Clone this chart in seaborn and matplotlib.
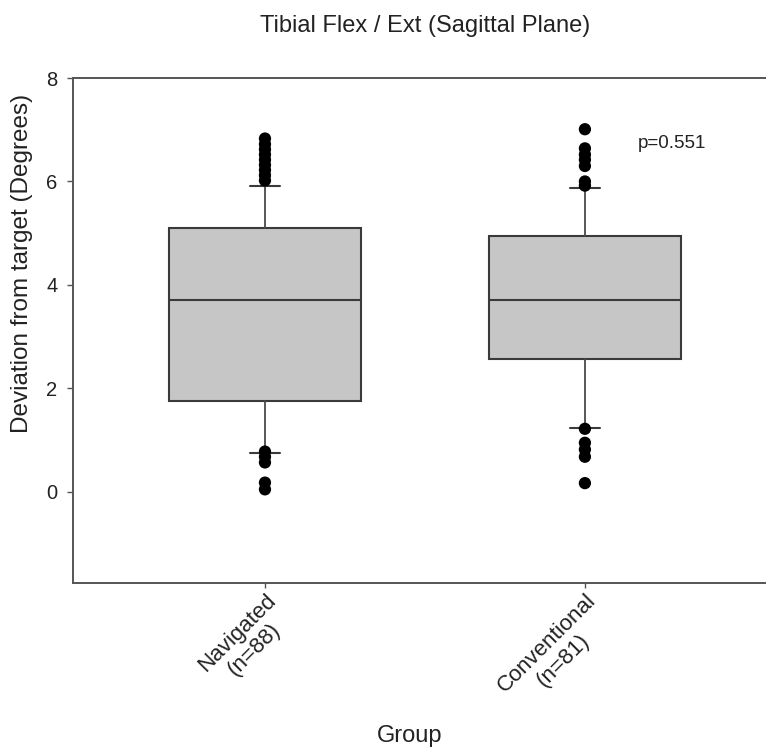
import matplotlib
matplotlib.use("Agg")
import matplotlib.pyplot as plt
import seaborn as sns
import pandas as pd

# Group labels and summary statistics (whiskers at the 10th / 90th percentiles)
groups = ["Navigated\n(n=88)", "Conventional\n(n=81)"]
medians = [3.71, 3.71]
q1 = [1.76, 2.57]
q3 = [5.10, 4.95]
whisk_low = [0.75, 1.24]
whisk_high = [5.91, 5.87]

# Points beyond the whiskers
outliers_navigated = [6.83, 6.72, 6.62, 6.52, 6.42, 6.32, 6.22, 6.12, 6.02,
                      0.78, 0.68, 0.57, 0.18, 0.05]
outliers_conventional = [7.01, 6.64, 6.52, 6.42, 6.30, 6.00, 5.92,
                         1.22, 0.95, 0.82, 0.68, 0.17]

p_label = "p=0.551"
y_ticks = [0, 2, 4, 6, 8]

sns.set_style("white")
plt.rcParams["font.family"] = ["Liberation Sans", "DejaVu Sans"]

W, H = 766, 753
fig = plt.figure(figsize=(W / 100, H / 100), dpi=100)
ax = fig.add_axes([73 / W, 1 - 583 / H, 1 - 73 / W, (583 - 78) / H])

stats = []
for i in range(len(groups)):
    stats.append(dict(med=medians[i], q1=q1[i], q3=q3[i],
                      whislo=whisk_low[i], whishi=whisk_high[i], fliers=[]))

ax.bxp(stats, positions=[0, 1], widths=0.6, capwidths=0.095,
       patch_artist=True, showfliers=False,
       boxprops=dict(facecolor="#c6c6c6", edgecolor="#3a3a3a", linewidth=1.5),
       medianprops=dict(color="#3a3a3a", linewidth=1.5),
       whiskerprops=dict(color="#4a4a4a", linewidth=1.3),
       capprops=dict(color="#3a3a3a", linewidth=1.5))

out_df = pd.DataFrame({
    "pos": [0] * len(outliers_navigated) + [1] * len(outliers_conventional),
    "value": outliers_navigated + outliers_conventional,
})
sns.scatterplot(data=out_df, x="pos", y="value", ax=ax, color="black",
                s=78, edgecolor="none", zorder=5, legend=False)

ax.set_xlim(-0.6, 1.566)
ax.set_ylim(-1.76, 8)
ax.set_yticks(y_ticks)
ax.set_yticklabels([str(t) for t in y_ticks], fontsize=14.5, color="#222222")
ax.set_xticks([0, 1])
ax.set_xticklabels(groups, rotation=45, ha="right", va="top",
                   rotation_mode="anchor", multialignment="center",
                   fontsize=16, color="#222222")
ax.set_xlabel("")
ax.set_ylabel("")

for side in ["left", "top", "bottom"]:
    ax.spines[side].set_color("#555555")
    ax.spines[side].set_linewidth(1.4)
ax.spines["right"].set_visible(False)
ax.tick_params(axis="y", direction="out", length=4.3, width=1.0,
               color="#555555", pad=7, left=True)
ax.tick_params(axis="x", direction="out", length=3.5, width=1.0,
               color="#555555", pad=1.5, bottom=True)

ax.text(1.166, 6.74, p_label, va="center", ha="left", fontsize=13.5,
        color="#222222")

fig.text(425 / W, 1 - 26 / H, "Tibial Flex / Ext (Sagittal Plane)",
         ha="center", va="center", fontsize=17, color="#222222")
fig.text(22 / W, 1 - 263 / H, "Deviation from target (Degrees)",
         ha="center", va="center", rotation=90, fontsize=17.5, color="#222222")
fig.text(410 / W, 1 - 736 / H, "Group", ha="center", va="center",
         fontsize=17, color="#222222")

fig.savefig("out.png", dpi=100, facecolor="white")
